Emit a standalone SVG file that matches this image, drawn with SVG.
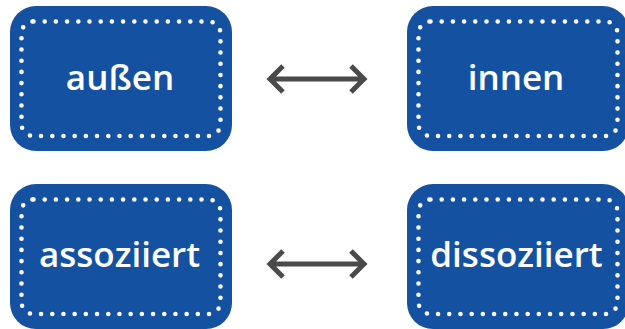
<svg xmlns="http://www.w3.org/2000/svg" width="625" height="329" viewBox="0 0 625 329">
  <style>
    .box { fill: #1551a1; }
    .dots { fill: none; stroke: #ffffff; stroke-width: 4.6; stroke-linecap: round; stroke-dasharray: 0 11.2; }
    .label { fill: #ffffff; font-family: "Open Sans", "Noto Sans", sans-serif; font-weight: 600; font-size: 35px; text-anchor: middle; }
    .arrow { fill: none; stroke: #4a4a4a; stroke-width: 5; stroke-linecap: butt; stroke-linejoin: miter; }
  </style>
  <rect width="625" height="329" fill="#ffffff"/>

  <g id="aussen">
    <rect class="box" x="10" y="6" width="222" height="145" rx="26"/>
    <rect class="dots" x="21.5" y="21.5" width="199" height="114.5" rx="12"/>
    <text class="label" x="120" y="90">außen</text>
  </g>

  <g id="innen">
    <rect class="box" x="407" y="6" width="222" height="145" rx="26"/>
    <rect class="dots" x="418.5" y="21.5" width="199" height="114.5" rx="12"/>
    <text class="label" x="516" y="90">innen</text>
  </g>

  <g id="assoziiert">
    <rect class="box" x="10" y="184" width="222" height="145" rx="26"/>
    <rect class="dots" x="21.5" y="199.5" width="199" height="114.5" rx="12"/>
    <text class="label" x="119.5" y="267">assoziiert</text>
  </g>

  <g id="dissoziiert">
    <rect class="box" x="407" y="184" width="222" height="145" rx="26"/>
    <rect class="dots" x="418.5" y="199.5" width="199" height="114.5" rx="12"/>
    <text class="label" x="516.5" y="267">dissoziiert</text>
  </g>

  <g id="connectors">
    <path class="arrow" d="M270 79 H364 M283 66 L270 79 L283 92 M351 66 L364 79 L351 92"/>
    <path class="arrow" d="M270 264 H364 M283 251 L270 264 L283 277 M351 251 L364 264 L351 277"/>
  </g>
</svg>
